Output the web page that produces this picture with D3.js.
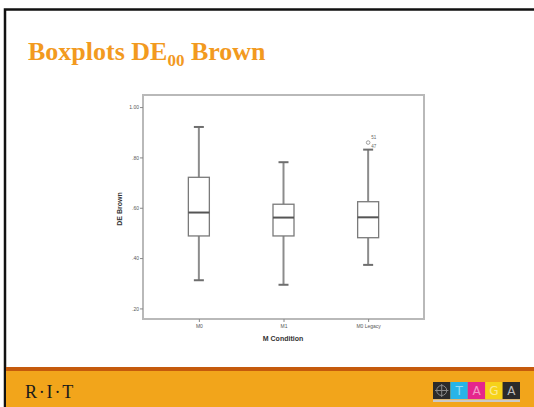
<!DOCTYPE html>
<html>
<head>
<meta charset="utf-8">
<script src="https://cdn.jsdelivr.net/npm/d3@7"></script>
<style>
  html, body { margin: 0; padding: 0; background: #fff; }
  svg { display: block; }
</style>
</head>
<body>
<svg id="slide" width="534" height="407"></svg>
<script>
// Box plot summary values of DE00 for the brown patch, per M condition
const categories   = ["M0", "M1", "M0 Legacy"];
const whiskerLow   = [0.312, 0.294, 0.373];
const quartile1    = [0.488, 0.488, 0.481];
const medians      = [0.581, 0.561, 0.562];
const quartile3    = [0.721, 0.614, 0.624];
const whiskerHigh  = [0.921, 0.781, 0.831];
const outlierCats  = ["M0 Legacy", "M0 Legacy"];
const outlierVals  = [0.859, 0.834];
const outlierIds   = ["51", "47"];
const yTicks       = [0.2, 0.4, 0.6, 0.8, 1.0];

const svg = d3.select("#slide");

// Slide background and frame
svg.append("rect").attr("x", 0).attr("y", 0).attr("width", 534).attr("height", 407).attr("fill", "#fff");
svg.append("rect").attr("x", 5).attr("y", 9.5).attr("width", 560).attr("height", 420)
  .attr("fill", "none").attr("stroke", "#111").attr("stroke-width", 2.5);

// Footer band
svg.append("rect").attr("x", 6).attr("y", 371).attr("width", 528).attr("height", 36).attr("fill", "#F2A51B");
svg.append("rect").attr("x", 6).attr("y", 367).attr("width", 528).attr("height", 4).attr("fill", "#C55A0C");
svg.append("text").attr("x", 25).attr("y", 398)
  .attr("font-family", "Liberation Serif, Times New Roman, serif").attr("font-size", 18)
  .attr("letter-spacing", 1.8).attr("fill", "#1a1a1a").text("R·I·T");

// TAGA logo squares
const logoColors = ["#2b2b2b", "#27B4E8", "#E5258C", "#F6D21A", "#2b2b2b"];
const logoLetters = ["", "T", "A", "G", "A"];
const logo = svg.append("g").attr("transform", "translate(433,382)");
logoColors.forEach((c, i) => {
  logo.append("rect").attr("x", i * 17.4).attr("y", 0).attr("width", 17.4).attr("height", 17).attr("fill", c);
  if (logoLetters[i]) {
    logo.append("text").attr("x", i * 17.4 + 8.7).attr("y", 13)
      .attr("text-anchor", "middle").attr("font-family", "DejaVu Sans, sans-serif")
      .attr("font-size", 12).attr("fill", i === 4 ? "#bbb" : "rgba(255,255,255,0.55)")
      .text(logoLetters[i]);
  }
});
logo.append("circle").attr("cx", 8.7).attr("cy", 8.5).attr("r", 5).attr("fill", "none").attr("stroke", "#888").attr("stroke-width", 1);
logo.append("line").attr("x1", 2).attr("x2", 15.4).attr("y1", 8.5).attr("y2", 8.5).attr("stroke", "#888");
logo.append("line").attr("x1", 8.7).attr("x2", 8.7).attr("y1", 2).attr("y2", 15).attr("stroke", "#888");
logo.append("rect").attr("x", 0).attr("y", 17.5).attr("width", 87).attr("height", 2.5).attr("fill", "#c9c9c9");

// Title
const title = svg.append("text").attr("x", 28).attr("y", 60)
  .attr("font-family", "Liberation Serif, Times New Roman, serif").attr("font-weight", "bold")
  .attr("font-size", 26).attr("fill", "#F29A1F");
title.append("tspan").text("Boxplots DE");
title.append("tspan").attr("font-size", 17).attr("dy", 6).text("00");
title.append("tspan").attr("dy", -6).text(" Brown");

// Plot area
const plot = { left: 143, right: 424, top: 95, bottom: 319 };

const y = d3.scaleLinear().domain([0.158, 1.048]).range([plot.bottom, plot.top]);
const x = d3.scalePoint().domain(categories).range([plot.left, plot.right]).padding(0.66);

const gridColor = "#b9b9b9";
const boxColor = "#8c8c8c";

// Frame around the plot
svg.append("rect").attr("x", plot.left).attr("y", plot.top)
  .attr("width", plot.right - plot.left).attr("height", plot.bottom - plot.top)
  .attr("fill", "none").attr("stroke", gridColor).attr("stroke-width", 2);

// Y axis
const yAxis = d3.axisLeft(y).tickValues(yTicks).tickSize(3).tickPadding(1)
  .tickFormat(d => d3.format(".2f")(d).replace(/^0/, ""));
const gy = svg.append("g").attr("transform", `translate(${plot.left},0)`).call(yAxis);
gy.select(".domain").remove();
gy.selectAll(".tick line").attr("stroke", "#888");
gy.selectAll(".tick text").attr("font-family", "Liberation Sans, Arial, sans-serif")
  .attr("font-size", 5).attr("fill", "#555");

// X axis
const xAxis = d3.axisBottom(x).tickSize(3).tickPadding(2);
const gx = svg.append("g").attr("transform", `translate(0,${plot.bottom})`).call(xAxis);
gx.select(".domain").remove();
gx.selectAll(".tick line").attr("stroke", "#888");
gx.selectAll(".tick text").attr("font-family", "Liberation Sans, Arial, sans-serif")
  .attr("font-size", 5).attr("fill", "#555");

// Axis titles
svg.append("text").attr("x", (plot.left + plot.right) / 2 - 0.5).attr("y", 341)
  .attr("text-anchor", "middle").attr("font-family", "Liberation Sans, Arial, sans-serif")
  .attr("font-weight", "bold").attr("font-size", 7).attr("fill", "#333").text("M Condition");
svg.append("text").attr("transform", "translate(122,209) rotate(-90)")
  .attr("text-anchor", "middle").attr("font-family", "Liberation Sans, Arial, sans-serif")
  .attr("font-weight", "bold").attr("font-size", 7).attr("fill", "#333").text("DE Brown");

// Boxes
const boxW = 21, capW = 10;
const boxes = svg.append("g");
categories.forEach((c, i) => {
  const cx = x(c);
  const g = boxes.append("g");
  g.append("line").attr("x1", cx).attr("x2", cx).attr("y1", y(whiskerHigh[i])).attr("y2", y(quartile3[i]))
    .attr("stroke", boxColor).attr("stroke-width", 2);
  g.append("line").attr("x1", cx).attr("x2", cx).attr("y1", y(quartile1[i])).attr("y2", y(whiskerLow[i]))
    .attr("stroke", boxColor).attr("stroke-width", 2);
  g.append("line").attr("x1", cx - capW / 2).attr("x2", cx + capW / 2)
    .attr("y1", y(whiskerHigh[i])).attr("y2", y(whiskerHigh[i])).attr("stroke", "#6e6e6e").attr("stroke-width", 2);
  g.append("line").attr("x1", cx - capW / 2).attr("x2", cx + capW / 2)
    .attr("y1", y(whiskerLow[i])).attr("y2", y(whiskerLow[i])).attr("stroke", "#6e6e6e").attr("stroke-width", 2);
  g.append("rect").attr("x", cx - boxW / 2).attr("y", y(quartile3[i]))
    .attr("width", boxW).attr("height", y(quartile1[i]) - y(quartile3[i]))
    .attr("fill", "#fff").attr("stroke", "#7a7a7a").attr("stroke-width", 1.3);
  g.append("line").attr("x1", cx - boxW / 2).attr("x2", cx + boxW / 2)
    .attr("y1", y(medians[i])).attr("y2", y(medians[i])).attr("stroke", "#555").attr("stroke-width", 2);
});

// Outliers
outlierVals.forEach((v, i) => {
  const cx = x(outlierCats[i]);
  if (i === 0) {
    svg.append("circle").attr("cx", cx).attr("cy", y(v)).attr("r", 1.8)
      .attr("fill", "none").attr("stroke", "#888").attr("stroke-width", 0.8);
  }
  svg.append("text").attr("x", cx + 3).attr("y", y(v) - (i === 0 ? 4 : 0.5))
    .attr("font-family", "Liberation Sans, Arial, sans-serif").attr("font-size", 4.5)
    .attr("fill", "#666").text(outlierIds[i]);
});
</script>
</body>
</html>
